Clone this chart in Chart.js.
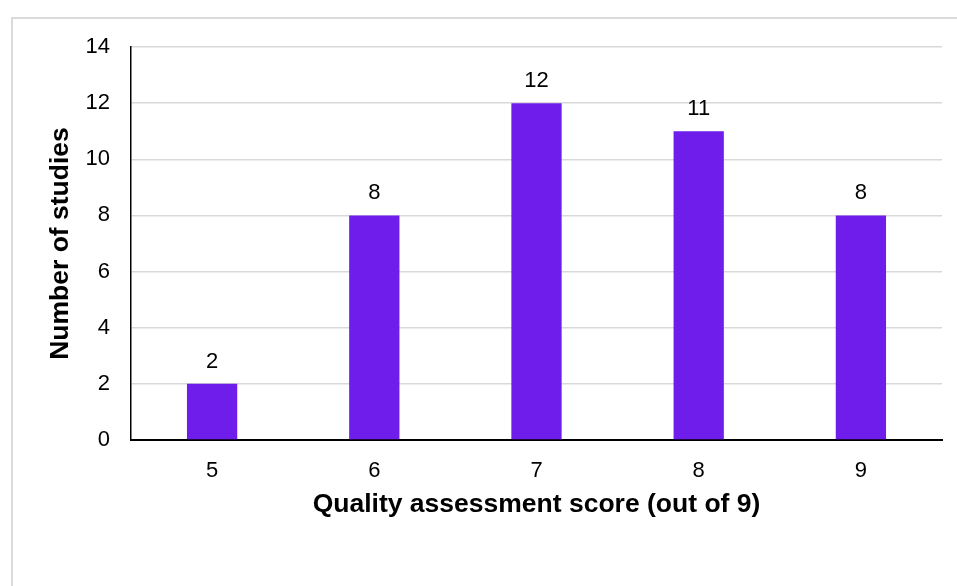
<!DOCTYPE html>
<html>
<head>
<meta charset="utf-8">
<script src="https://cdn.jsdelivr.net/npm/chart.js@4/dist/chart.umd.min.js"></script>
<style>
  html, body { margin: 0; padding: 0; background: #ffffff; }
  #wrap { position: relative; width: 957px; height: 586px; overflow: hidden; }
  #frame { position: absolute; left: 11px; top: 17px; width: 2000px; height: 2000px;
           border-top: 2px solid #dadada; border-left: 2px solid #dadada; }
  canvas { position: absolute; left: 0; top: 0; }
</style>
</head>
<body>
<div id="wrap">
  <div id="frame"></div>
  <canvas id="c" width="957" height="586"></canvas>
</div>
<script>
const categories = ['5', '6', '7', '8', '9'];
const studyCounts = [2, 8, 12, 11, 8];
const yMin = 0, yMax = 14, yStep = 2;
const xTitle = 'Quality assessment score (out of 9)';
const yTitle = 'Number of studies';

const FONT = "'Liberation Sans', Arial, sans-serif";

const valueLabels = {
  id: 'valueLabels',
  afterDatasetsDraw(chart) {
    const ctx = chart.ctx;
    const meta = chart.getDatasetMeta(0);
    ctx.save();
    ctx.font = '22px ' + FONT;
    ctx.fillStyle = '#000';
    ctx.textAlign = 'center';
    ctx.textBaseline = 'alphabetic';
    meta.data.forEach((bar, i) => {
      ctx.fillText(String(studyCounts[i]), bar.x, bar.y - 16);
    });
    ctx.restore();
  }
};

new Chart(document.getElementById('c'), {
  type: 'bar',
  data: {
    labels: categories,
    datasets: [{
      data: studyCounts,
      backgroundColor: '#6f1dea',
      borderWidth: 0,
      barPercentage: 0.31,
      categoryPercentage: 1.0
    }]
  },
  options: {
    responsive: false,
    animation: false,
    devicePixelRatio: 1,
    layout: { padding: { left: 0, right: 15, top: 47, bottom: 0 } },
    plugins: { legend: { display: false }, tooltip: { enabled: false } },
    scales: {
      x: {
        grid: { display: false, drawTicks: false },
        border: { display: true, color: '#000', width: 2 },
        ticks: { color: '#000', font: { family: FONT, size: 22 }, padding: 18 },
        title: {
          display: true, text: xTitle, color: '#000',
          font: { family: FONT, size: 26.5, weight: 'bold' },
          padding: { top: 0, bottom: 65 }
        },
        afterFit(scale) { scale.height = 146; }
      },
      y: {
        min: yMin, max: yMax,
        grid: { color: '#d9d9d9', lineWidth: 1.5, drawTicks: false },
        border: { display: true, color: '#000', width: 1.5 },
        ticks: { stepSize: yStep, color: '#000', font: { family: FONT, size: 22 }, padding: 21 },
        title: {
          display: true, text: yTitle, color: '#000',
          font: { family: FONT, size: 26.5, weight: 'bold' },
          padding: { top: 45, bottom: 0 }
        },
        afterFit(scale) { scale.width = 131; }
      }
    }
  },
  plugins: [valueLabels]
});
</script>
</body>
</html>
